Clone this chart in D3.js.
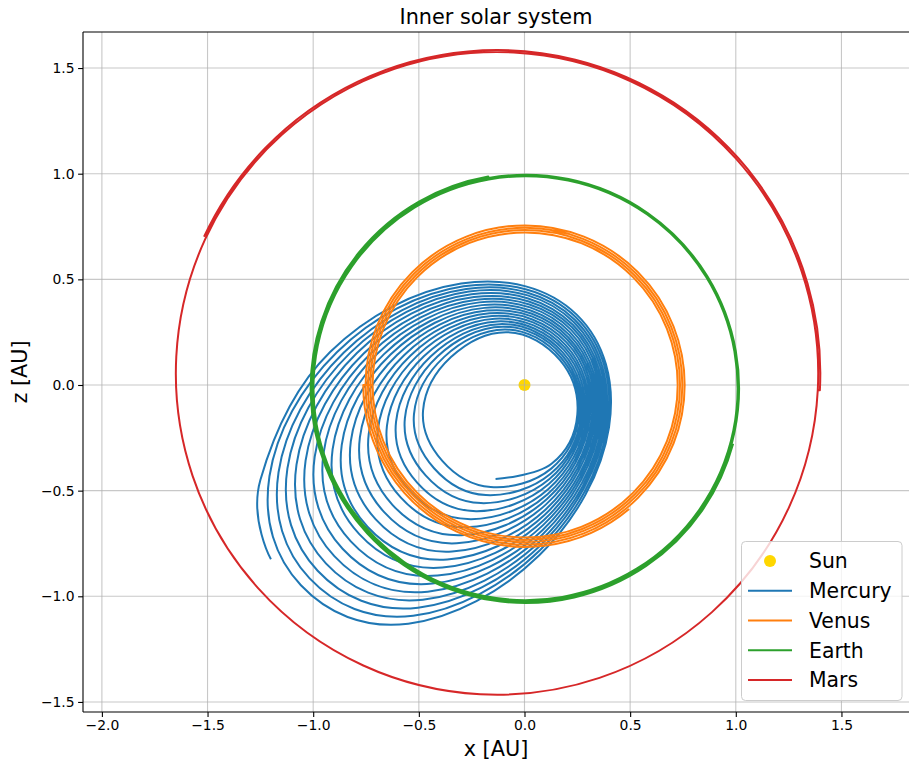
<!DOCTYPE html>
<html>
<head>
<meta charset="utf-8">
<script src="https://cdn.jsdelivr.net/npm/d3@7"></script>
<style>
    body { margin: 0; background: #fff; }
    svg { display: block; font-family: "DejaVu Sans", sans-serif; }
</style>
</head>
<body>
<div id="chart"></div>
<script>
// values (AU)
const xTicks = [-2.0, -1.5, -1.0, -0.5, 0.0, 0.5, 1.0, 1.5];
const yTicks = [-1.5, -1.0, -0.5, 0.0, 0.5, 1.0, 1.5];

const sunPos = [0, 0];

// Mercury spiral: per loop the S, SE, E, NE, N, NW, W, SW points, last loop ends early
const mercuryPath = [
    [-0.137, -0.445], [0.128, -0.373], [0.250, -0.140], [0.168, 0.118], [-0.080, 0.250], [-0.348, 0.132], [-0.480, -0.120], [-0.389, -0.359],
    [-0.160, -0.483], [0.125, -0.397], [0.258, -0.143], [0.172, 0.130], [-0.092, 0.263], [-0.380, 0.133], [-0.523, -0.138], [-0.428, -0.394],
    [-0.183, -0.521], [0.122, -0.421], [0.267, -0.147], [0.177, 0.142], [-0.104, 0.276], [-0.412, 0.135], [-0.566, -0.157], [-0.468, -0.428],
    [-0.206, -0.559], [0.118, -0.445], [0.275, -0.150], [0.181, 0.154], [-0.117, 0.288], [-0.443, 0.136], [-0.608, -0.175], [-0.507, -0.463],
    [-0.229, -0.597], [0.115, -0.469], [0.283, -0.153], [0.186, 0.166], [-0.129, 0.301], [-0.475, 0.137], [-0.651, -0.193], [-0.546, -0.498],
    [-0.252, -0.635], [0.112, -0.493], [0.292, -0.157], [0.190, 0.178], [-0.141, 0.314], [-0.507, 0.139], [-0.694, -0.212], [-0.586, -0.532],
    [-0.275, -0.673], [0.109, -0.517], [0.300, -0.160], [0.194, 0.190], [-0.153, 0.327], [-0.539, 0.140], [-0.737, -0.230], [-0.625, -0.567],
    [-0.298, -0.711], [0.105, -0.541], [0.308, -0.163], [0.199, 0.202], [-0.166, 0.339], [-0.570, 0.141], [-0.779, -0.248], [-0.664, -0.602],
    [-0.321, -0.749], [0.102, -0.565], [0.317, -0.167], [0.203, 0.214], [-0.178, 0.352], [-0.602, 0.143], [-0.822, -0.267], [-0.704, -0.636],
    [-0.343, -0.788], [0.099, -0.590], [0.325, -0.170], [0.208, 0.225], [-0.190, 0.365], [-0.634, 0.144], [-0.865, -0.285], [-0.743, -0.671],
    [-0.366, -0.826], [0.096, -0.614], [0.333, -0.173], [0.212, 0.237], [-0.202, 0.378], [-0.666, 0.145], [-0.908, -0.303], [-0.782, -0.706],
    [-0.389, -0.864], [0.093, -0.638], [0.342, -0.177], [0.216, 0.249], [-0.214, 0.391], [-0.698, 0.147], [-0.951, -0.322], [-0.822, -0.740],
    [-0.412, -0.902], [0.089, -0.662], [0.350, -0.180], [0.221, 0.261], [-0.227, 0.403], [-0.729, 0.148], [-0.993, -0.340], [-0.861, -0.775],
    [-0.435, -0.940], [0.086, -0.686], [0.358, -0.183], [0.225, 0.273], [-0.239, 0.416], [-0.761, 0.149], [-1.036, -0.358], [-0.900, -0.810],
    [-0.458, -0.978], [0.083, -0.710], [0.367, -0.187], [0.229, 0.285], [-0.251, 0.429], [-0.793, 0.151], [-1.079, -0.377], [-0.940, -0.844],
    [-0.481, -1.016], [0.080, -0.734], [0.375, -0.190], [0.234, 0.297], [-0.263, 0.442], [-0.825, 0.152], [-1.122, -0.395], [-0.979, -0.879],
    [-0.504, -1.054], [0.076, -0.758], [0.383, -0.193], [0.238, 0.309], [-0.276, 0.454], [-0.856, 0.153], [-1.164, -0.413], [-1.018, -0.914],
    [-0.527, -1.092], [0.073, -0.782], [0.392, -0.197], [0.243, 0.321], [-0.288, 0.467], [-0.888, 0.155], [-1.207, -0.432], [-1.058, -0.948],
    [-0.550, -1.130], [0.070, -0.806], [0.400, -0.200], [0.247, 0.333], [-0.300, 0.480], [-0.920, 0.156], [-1.250, -0.450], [-1.200, -0.825]
];

// the other planets: one near-circular lap after another (centre, radius, start/end angle in degrees)
const venusCenter = [0.003, 0.0];
const venusRadius = [0.722, 0.733, 0.744, 0.755, 0.766];
const venusStart = [180, 540, 900, 1260, 1620];
const venusEnd = [540, 900, 1260, 1620, 1750];

const earthCenter = [0.005, -0.015];
const earthRadius = [1.003, 1.010, 1.017];
const earthStart = [100, 460, 820];
const earthEnd = [460, 820, 1065];

const marsCenter = [-0.13, 0.055];
const marsRadius = [1.520, 1.530];
const marsStart = [-3, 357];
const marsEnd = [357, 515];

const planetNames = ["Mercury", "Venus", "Earth", "Mars"];
const planetColors = ["#1f77b4", "#ff7f0e", "#2ca02c", "#d62728"];
const sunColor = "#ffd700";

const width = 909, height = 766;
const margin = { top: 32, right: 0, bottom: 54, left: 83 };

const svg = d3.select("#chart").append("svg")
    .attr("width", width)
    .attr("height", height);

// equal aspect: 211.3 px per AU on both axes
const x = d3.scaleLinear().domain([-2.0894, 1.8197]).range([margin.left, width - margin.right]);
const y = d3.scaleLinear().domain([-1.5476, 1.6706]).range([height - margin.bottom, margin.top]);

const fmt = d => d3.format(".1f")(d).replace("-", "\u2212");

svg.append("defs").append("clipPath").attr("id", "plot-clip")
    .append("rect")
    .attr("x", margin.left).attr("y", margin.top)
    .attr("width", width - margin.left - margin.right)
    .attr("height", height - margin.top - margin.bottom);

// sun sits under the grid, like matplotlib's scatter
svg.append("circle")
    .attr("cx", x(sunPos[0]))
    .attr("cy", y(sunPos[1]))
    .attr("r", 6)
    .attr("fill", sunColor);

// grid
const grid = svg.append("g").attr("clip-path", "url(#plot-clip)");
grid.selectAll(".vgrid").data(xTicks).enter().append("line")
    .attr("x1", d => x(d)).attr("x2", d => x(d))
    .attr("y1", margin.top).attr("y2", height - margin.bottom)
    .attr("stroke", "#b0b0b0").attr("stroke-opacity", 0.7).attr("stroke-width", 1.1);
grid.selectAll(".hgrid").data(yTicks).enter().append("line")
    .attr("y1", d => y(d)).attr("y2", d => y(d))
    .attr("x1", margin.left).attr("x2", width)
    .attr("stroke", "#b0b0b0").attr("stroke-opacity", 0.7).attr("stroke-width", 1.1);

// orbits
const spiralLine = d3.line()
    .x(d => x(d[0]))
    .y(d => y(d[1]))
    .curve(d3.curveCardinal.tension(-0.125));

function lapPath(center, radii, starts, ends) {
    const p = d3.path();
    const cx = x(center[0]), cy = y(center[1]);
    const rad = Math.PI / 180;
    radii.forEach((r, i) => {
        // data angles run counter-clockwise with y up, so flip them for the screen
        p.arc(cx, cy, x(r) - x(0), -starts[i] * rad, -ends[i] * rad, true);
    });
    return p.toString();
}

const orbits = svg.append("g")
    .attr("clip-path", "url(#plot-clip)")
    .attr("fill", "none")
    .attr("stroke-width", 2)
    .attr("stroke-linejoin", "round");

orbits.append("path").attr("d", spiralLine(mercuryPath)).attr("stroke", planetColors[0]);
orbits.append("path").attr("d", lapPath(venusCenter, venusRadius, venusStart, venusEnd)).attr("stroke", planetColors[1]);
orbits.append("path").attr("d", lapPath(earthCenter, earthRadius, earthStart, earthEnd)).attr("stroke", planetColors[2]);
orbits.append("path").attr("d", lapPath(marsCenter, marsRadius, marsStart, marsEnd)).attr("stroke", planetColors[3]);

// axes
const xAxis = svg.append("g")
    .attr("transform", `translate(0,${height - margin.bottom})`)
    .call(d3.axisBottom(x).tickValues(xTicks).tickFormat(fmt).tickSize(4.9).tickPadding(3.5));
const yAxis = svg.append("g")
    .attr("transform", `translate(${margin.left},0)`)
    .call(d3.axisLeft(y).tickValues(yTicks).tickFormat(fmt).tickSize(4.9).tickPadding(3.5));

[xAxis, yAxis].forEach(g => {
    g.select(".domain").remove();
    g.selectAll(".tick line").attr("stroke", "#000").attr("stroke-width", 1.1);
    g.selectAll(".tick text").attr("fill", "#000").style("font-size", "13.9px").style("font-family", "DejaVu Sans");
});

// spines (top, bottom, left)
const spine = (x1, y1, x2, y2) => svg.append("line")
    .attr("x1", x1).attr("y1", y1).attr("x2", x2).attr("y2", y2)
    .attr("stroke", "#000").attr("stroke-width", 1.1);
spine(margin.left, margin.top, width, margin.top);
spine(margin.left, height - margin.bottom, width, height - margin.bottom);
spine(margin.left, margin.top, margin.left, height - margin.bottom);

// labels
svg.append("text")
    .attr("x", (margin.left + width) / 2)
    .attr("y", 24)
    .attr("text-anchor", "middle")
    .style("font-size", "20.8px")
    .text("Inner solar system");

svg.append("text")
    .attr("x", (margin.left + width) / 2)
    .attr("y", 756)
    .attr("text-anchor", "middle")
    .style("font-size", "20.8px")
    .text("x [AU]");

svg.append("text")
    .attr("transform", `translate(27,${(margin.top + height - margin.bottom) / 2}) rotate(-90)`)
    .attr("text-anchor", "middle")
    .style("font-size", "20.8px")
    .text("z [AU]");

// legend
const legend = svg.append("g").attr("transform", "translate(741.5,541.5)");
legend.append("rect")
    .attr("width", 160.5).attr("height", 159)
    .attr("rx", 4).attr("ry", 4)
    .attr("fill", "#fff").attr("fill-opacity", 0.8)
    .attr("stroke", "#cccccc").attr("stroke-width", 1);

const entries = [{ name: "Sun", color: sunColor, marker: true }]
    .concat(planetNames.map((n, i) => ({ name: n, color: planetColors[i], marker: false })));

const rowY = d3.scaleLinear().domain([0, 4]).range([19.5, 138.5]);

entries.forEach((e, i) => {
    const cy = rowY(i);
    if (e.marker) {
        legend.append("circle").attr("cx", 28.5).attr("cy", cy).attr("r", 6).attr("fill", e.color);
    } else {
        legend.append("line")
            .attr("x1", 6.5).attr("x2", 50.5)
            .attr("y1", cy).attr("y2", cy)
            .attr("stroke", e.color).attr("stroke-width", 2);
    }
    legend.append("text")
        .attr("x", 67.5)
        .attr("y", cy + 7.3)
        .style("font-size", "20.4px")
        .text(e.name);
});
</script>
</body>
</html>
